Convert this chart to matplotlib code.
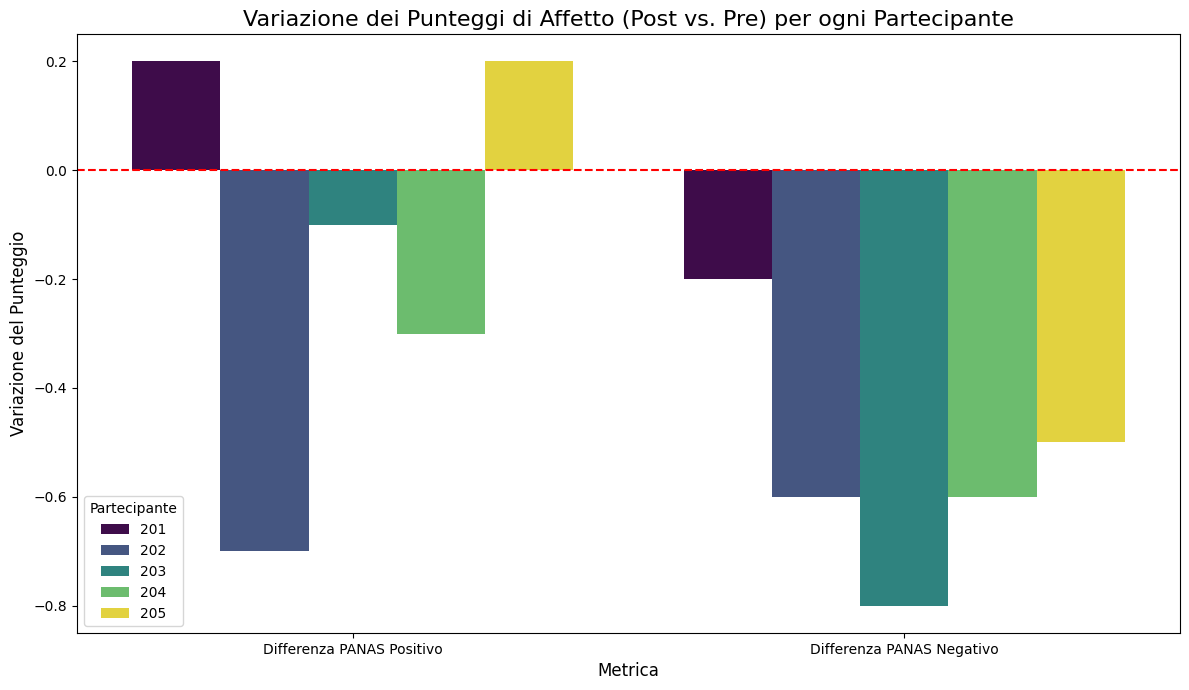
import matplotlib
matplotlib.use("Agg")
import matplotlib.pyplot as plt
import seaborn as sns
import pandas as pd

metriche = ["Differenza PANAS Positivo", "Differenza PANAS Negativo"]
partecipanti = [201, 202, 203, 204, 205]
diff_positivo = [0.2, -0.7, -0.1, -0.3, 0.2]
diff_negativo = [-0.2, -0.6, -0.8, -0.6, -0.5]

# long format for seaborn
rows = []
for p, v in zip(partecipanti, diff_positivo):
    rows.append({"Metrica": metriche[0], "Partecipante": p, "Variazione": v})
for p, v in zip(partecipanti, diff_negativo):
    rows.append({"Metrica": metriche[1], "Partecipante": p, "Variazione": v})
df = pd.DataFrame(rows)

# numeric hue -> full viridis range
cmap = plt.get_cmap("viridis")
pal = {str(p): cmap(i / (len(partecipanti) - 1)) for i, p in enumerate(partecipanti)}
df["Partecipante"] = df["Partecipante"].astype(str)

fig, ax = plt.subplots(figsize=(11.89, 6.9), dpi=100)
sns.barplot(data=df, x="Metrica", y="Variazione", hue="Partecipante",
            palette=pal, ax=ax)
ax.axhline(0, color="red", linestyle="--")
ax.set_title("Variazione dei Punteggi di Affetto (Post vs. Pre) per ogni Partecipante", fontsize=16)
ax.set_xlabel("Metrica", fontsize=12)
ax.set_ylabel("Variazione del Punteggio", fontsize=12)
ax.legend(title="Partecipante", loc="lower left")

plt.subplots_adjust(left=0.0648, right=0.9924, top=0.9507, bottom=0.0826)
plt.savefig("out.png", dpi=100)
